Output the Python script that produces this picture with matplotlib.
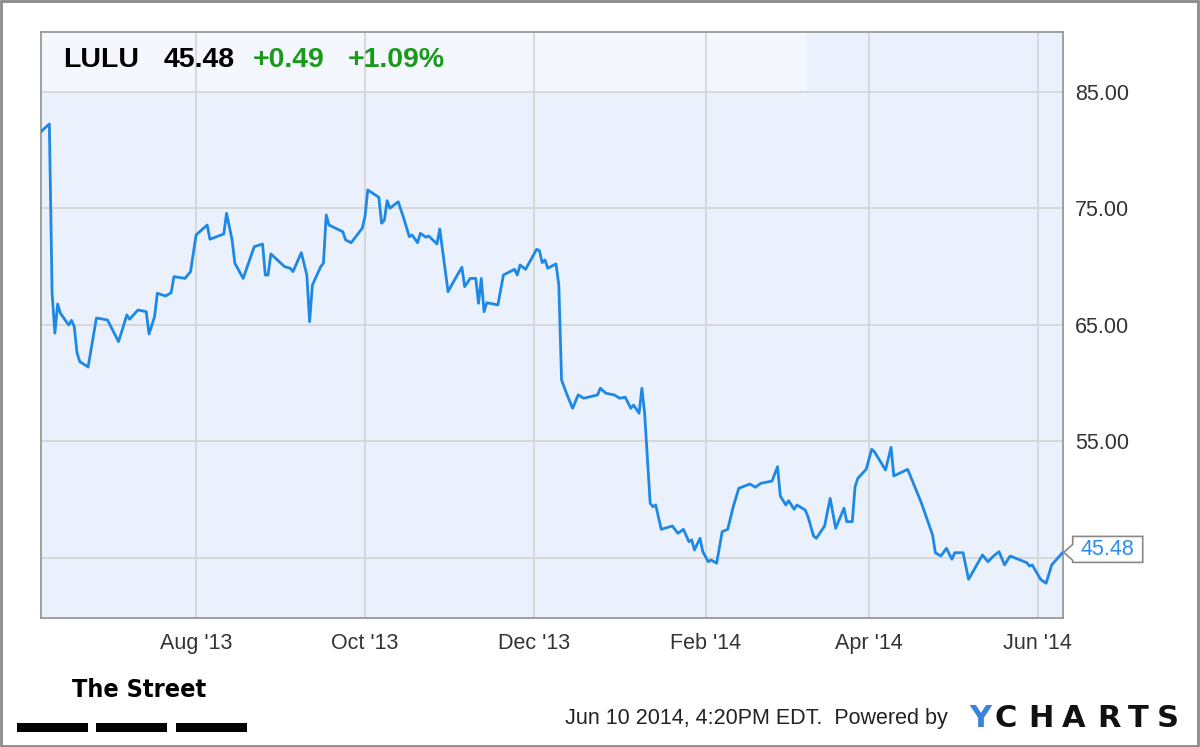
import matplotlib
matplotlib.use("Agg")
import matplotlib.pyplot as plt
import matplotlib.dates as mdates
import pandas as pd
from matplotlib.patches import Rectangle, Polygon
from matplotlib.transforms import IdentityTransform

plt.rcParams['font.family'] = ['Liberation Sans', 'DejaVu Sans']

# LULU closing prices (Jun 2013 - Jun 2014)
dates = ['2013-06-06', '2013-06-09', '2013-06-10', '2013-06-11', '2013-06-12', '2013-06-13',
         '2013-06-16', '2013-06-17', '2013-06-18', '2013-06-19', '2013-06-20', '2013-06-23',
         '2013-06-26', '2013-06-30', '2013-07-04', '2013-07-07', '2013-07-08', '2013-07-11',
         '2013-07-14', '2013-07-15', '2013-07-17', '2013-07-18', '2013-07-21', '2013-07-23',
         '2013-07-24', '2013-07-28', '2013-07-30', '2013-08-01', '2013-08-05', '2013-08-06',
         '2013-08-11', '2013-08-12', '2013-08-14', '2013-08-15', '2013-08-18', '2013-08-22',
         '2013-08-25', '2013-08-26', '2013-08-27', '2013-08-28', '2013-09-02', '2013-09-04',
         '2013-09-05', '2013-09-08', '2013-09-10', '2013-09-11', '2013-09-12', '2013-09-15',
         '2013-09-16', '2013-09-17', '2013-09-18', '2013-09-23', '2013-09-24', '2013-09-26',
         '2013-09-30', '2013-10-01', '2013-10-02', '2013-10-06', '2013-10-07', '2013-10-08',
         '2013-10-09', '2013-10-10', '2013-10-13', '2013-10-15', '2013-10-17', '2013-10-18',
         '2013-10-20', '2013-10-21', '2013-10-23', '2013-10-24', '2013-10-27', '2013-10-28',
         '2013-10-31', '2013-11-03', '2013-11-05', '2013-11-06', '2013-11-08', '2013-11-10',
         '2013-11-11', '2013-11-12', '2013-11-13', '2013-11-14', '2013-11-18', '2013-11-20',
         '2013-11-24', '2013-11-25', '2013-11-26', '2013-11-28', '2013-12-02', '2013-12-03',
         '2013-12-04', '2013-12-05', '2013-12-06', '2013-12-09', '2013-12-10', '2013-12-11',
         '2013-12-13', '2013-12-15', '2013-12-17', '2013-12-19', '2013-12-24', '2013-12-25',
         '2013-12-27', '2013-12-30', '2014-01-01', '2014-01-03', '2014-01-05', '2014-01-06',
         '2014-01-08', '2014-01-09', '2014-01-10', '2014-01-12', '2014-01-13', '2014-01-14',
         '2014-01-16', '2014-01-20', '2014-01-22', '2014-01-24', '2014-01-26', '2014-01-27',
         '2014-01-28', '2014-01-30', '2014-01-31', '2014-02-02', '2014-02-03', '2014-02-05',
         '2014-02-07', '2014-02-09', '2014-02-11', '2014-02-13', '2014-02-17', '2014-02-19',
         '2014-02-21', '2014-02-25', '2014-02-27', '2014-02-28', '2014-03-02', '2014-03-03',
         '2014-03-05', '2014-03-06', '2014-03-09', '2014-03-10', '2014-03-12', '2014-03-13',
         '2014-03-16', '2014-03-18', '2014-03-20', '2014-03-23', '2014-03-24', '2014-03-26',
         '2014-03-27', '2014-03-28', '2014-03-31', '2014-04-02', '2014-04-03', '2014-04-07',
         '2014-04-09', '2014-04-10', '2014-04-15', '2014-04-20', '2014-04-24', '2014-04-25',
         '2014-04-27', '2014-04-29', '2014-05-01', '2014-05-02', '2014-05-05', '2014-05-07',
         '2014-05-12', '2014-05-14', '2014-05-16', '2014-05-18', '2014-05-20', '2014-05-22',
         '2014-05-28', '2014-05-29', '2014-05-30', '2014-06-02', '2014-06-04', '2014-06-06',
         '2014-06-10']
prices = [81.6, 82.25, 67.7, 64.3, 66.8, 66.0,
          65.0, 65.4, 64.85, 62.6, 61.85, 61.4,
          65.6, 65.43, 63.57, 65.86, 65.49, 66.29,
          66.14, 64.23, 65.71, 67.72, 67.49, 67.77,
          69.15, 69.0, 69.58, 72.73, 73.58, 72.36,
          72.81, 74.59, 72.3, 70.3, 69.0, 71.72,
          71.95, 69.29, 69.29, 71.1, 70.0, 69.87,
          69.58, 71.21, 69.29, 65.28, 68.43, 70.0,
          70.3, 74.44, 73.58, 73.0, 72.3, 72.06,
          73.3, 74.3, 76.59, 75.96, 73.73, 74.0,
          75.67, 75.02, 75.58, 74.16, 72.58, 72.73,
          72.06, 72.87, 72.53, 72.64, 71.95, 73.24,
          67.86, 69.15, 69.95, 68.29, 69.0, 69.0,
          66.86, 69.0, 66.14, 66.91, 66.72, 69.29,
          69.78, 69.29, 70.15, 69.78, 71.5, 71.38,
          70.35, 70.58, 69.87, 70.24, 68.43, 60.28,
          59.0, 57.85, 59.0, 58.71, 59.0, 59.57,
          59.14, 59.0, 58.71, 58.8, 57.85, 58.13,
          57.42, 59.57, 57.42, 49.7, 49.4, 49.55,
          47.46, 47.75, 47.12, 47.46, 46.4, 46.55,
          45.69, 46.69, 45.54, 44.68, 44.83, 44.55,
          47.26, 47.46, 49.4, 50.98, 51.35, 51.07,
          51.41, 51.6, 52.84, 50.32, 49.55, 49.92,
          49.18, 49.55, 49.12, 48.55, 46.89, 46.69,
          47.75, 50.12, 47.55, 49.27, 48.12, 48.12,
          51.12, 51.84, 52.61, 54.33, 54.12, 52.55,
          54.5, 52.04, 52.61, 49.7, 46.97, 45.45,
          45.17, 45.83, 44.89, 45.45, 45.45, 43.17,
          45.26, 44.68, 45.17, 45.54, 44.4, 45.17,
          44.6, 44.31, 44.4, 43.17, 42.83, 44.4,
          45.48]

tick_dates = ['2013-08-01', '2013-10-01', '2013-12-01', '2014-02-01', '2014-04-01', '2014-06-01']
tick_labels = ["Aug '13", "Oct '13", "Dec '13", "Feb '14", "Apr '14", "Jun '14"]
y_ticks = [45, 55, 65, 75, 85]
y_labels = ['', '55.00', '65.00', '75.00', '85.00']

ticker = 'LULU'
last_price = '45.48'
change = '+0.49'
change_pct = '+1.09%'

x = pd.to_datetime(dates)

fig = plt.figure(figsize=(12, 7.47), dpi=100)
fig.patch.set_facecolor('white')

ax = fig.add_axes([0.0342, 0.1727, 0.8514, 0.7845])
ax.set_facecolor('#eaf1fc')

ax.plot(x, prices, color='#1e88e5', lw=2.0, solid_joinstyle='round', zorder=3)

ax.set_xlim(pd.Timestamp('2013-06-06'), pd.Timestamp('2014-06-10'))
ax.set_ylim(39.85, 90.15)

ax.set_xticks(pd.to_datetime(tick_dates))
ax.set_xticklabels(tick_labels)
ax.yaxis.tick_right()
ax.set_yticks(y_ticks)
ax.set_yticklabels(y_labels)
ax.tick_params(axis='both', length=0, labelsize=15.5, labelcolor='#333333')
ax.tick_params(axis='x', pad=11)
ax.tick_params(axis='y', pad=9)
ax.grid(True, color='#d6d6d6', lw=1.3, zorder=0)
for s in ax.spines.values():
    s.set_color('#999999')
    s.set_linewidth(1.3)

# lighter header box in the top-left of the plot
ax.add_patch(Rectangle((0, 0.9), 0.75, 0.1, transform=ax.transAxes,
                       facecolor='#f4f7fd', edgecolor='none', zorder=1))

fig.text(0.0525, 0.9197, ticker, fontsize=20.5, fontweight='bold', color='black', va='center')
fig.text(0.136, 0.9197, last_price, fontsize=20.5, fontweight='bold', color='black', va='center')
fig.text(0.211, 0.9197, change, fontsize=20.5, fontweight='bold', color='#1a9a1a', va='center')
fig.text(0.29, 0.9197, change_pct, fontsize=20.5, fontweight='bold', color='#1a9a1a', va='center')

# last price flag (pixel offsets from the last point)
px, py = ax.transData.transform((mdates.date2num(x[-1]), prices[-1]))
flag = [(px + 1, py), (px + 10, py + 8), (px + 10, py + 16), (px + 80, py + 16),
        (px + 80, py - 10), (px + 10, py - 10), (px + 10, py - 8)]
fig.add_artist(Polygon(flag, closed=True, transform=IdentityTransform(),
                       facecolor='white', edgecolor='#888888', lw=1.2, zorder=5))
fig.text((px + 45) / 1200, (py + 3) / 747, last_price, fontsize=15.5, color='#2b8ee8',
         ha='center', va='center', zorder=6)

# footer
fig.text(0.06, 0.0605, 'The Street', fontsize=18, fontweight='bold', color='black',
         va='bottom', family=['DejaVu Sans'], fontstretch='condensed')
for bx in [0.0142, 0.08, 0.1467]:
    fig.add_artist(Rectangle((bx, 0.0205), 0.059, 0.012, transform=fig.transFigure,
                             facecolor='black', edgecolor='none'))
fig.text(0.471, 0.0385, 'Jun 10 2014, 4:20PM EDT.  Powered by', fontsize=15.5,
         color='#222222', va='center')
fig.text(0.808, 0.0385, 'Y', fontsize=22, fontweight='bold', color='#3a84dc', va='center',
         family=['DejaVu Sans'])
for letter, lx in zip('CHARTS', [0.829, 0.857, 0.885, 0.914, 0.94, 0.964]):
    fig.text(lx, 0.0385, letter, fontsize=22, fontweight='bold', color='#111111',
             va='center', family=['DejaVu Sans'])

# outer frame
fig.add_artist(Rectangle((0.001, 0.002), 0.997, 0.996, transform=fig.transFigure,
                         facecolor='none', edgecolor='#8a8a8a', lw=2))

fig.savefig('out.png', dpi=100)
